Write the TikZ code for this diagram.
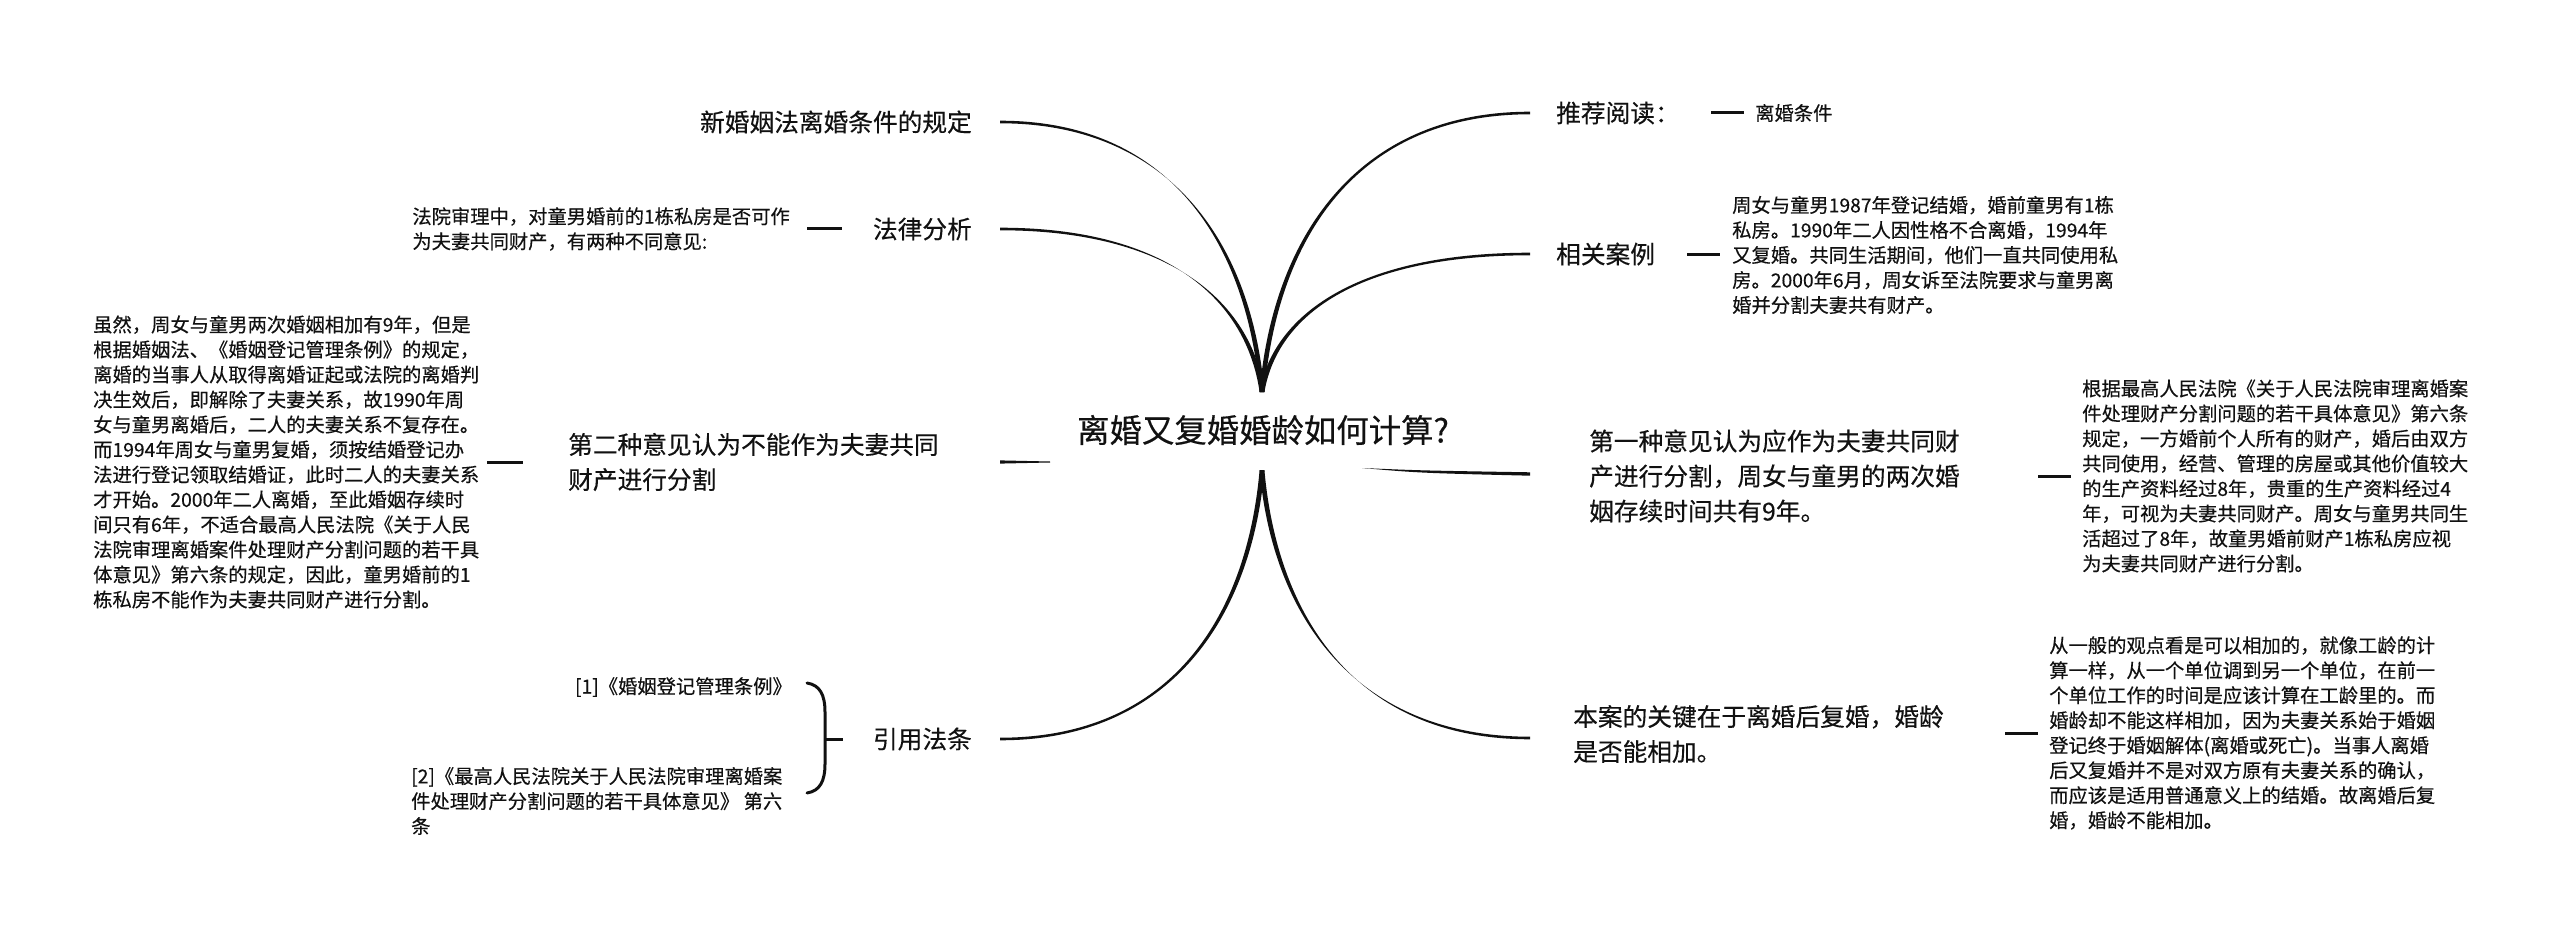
\documentclass[tikz,border=0pt]{standalone}
\usepackage{fontspec}
\newfontfamily\cjk[FakeBold=0.35]{Noto Sans CJK SC}
\usetikzlibrary{calc}
\definecolor{linec}{HTML}{111111}
\definecolor{txtc}{HTML}{111111}
\newcommand\fanline[6]{%
  \fill[linec] ($(#1)+(-2.4,0)$) .. controls +(#3,#4) and +(#5,#6) .. ($(#2)+(0,-1.3)$)
    -- ($(#2)+(0,1.3)$) .. controls +(#5,#6) and +(#3,#4) .. ($(#1)+(2.4,0)$) -- cycle;}
\begin{document}
\begin{tikzpicture}[x=1pt,y=-1pt,
  txt/.style={inner sep=0pt, text=txtc, font=\cjk\fontsize{19.3}{25}\selectfont, align=left},
  branch/.style={inner sep=0pt, text=txtc, font=\cjk\fontsize{24.7}{35}\selectfont, align=left},
  rootnode/.style={inner sep=0pt, text=txtc, font=\cjk\fontsize{32.4}{40}\selectfont},
  dashline/.style={draw=linec, line width=3pt},
  bracket/.style={draw=linec, line width=3pt, line cap=round},
]
\fill[white] (0,0) rectangle (2560,925);
\useasboundingbox (0,0) rectangle (2560,925);

% root
\node[rootnode] (root) at (1263,430) {离婚又复婚婚龄如何计算?};

% left branches
\node[branch, anchor=east] (b1) at (972,122) {新婚姻法离婚条件的规定};
\node[branch, anchor=east] (b2) at (972,229) {法律分析};
\node[branch, anchor=west] (b3) at (568,462) {第二种意见认为不能作为夫妻共同\\财产进行分割};
\node[branch, anchor=east] (b4) at (972,739) {引用法条};

\node[txt, anchor=east] (d2) at (790,229) {法院审理中，对童男婚前的1栋私房是否可作\\为夫妻共同财产，有两种不同意见:};
\node[txt, anchor=west] (d3) at (93,462) {虽然，周女与童男两次婚姻相加有9年，但是\\
根据婚姻法、《婚姻登记管理条例》的规定，\\
离婚的当事人从取得离婚证起或法院的离婚判\\
决生效后，即解除了夫妻关系，故1990年周\\
女与童男离婚后，二人的夫妻关系不复存在。\\
而1994年周女与童男复婚，须按结婚登记办\\
法进行登记领取结婚证，此时二人的夫妻关系\\
才开始。2000年二人离婚，至此婚姻存续时\\
间只有6年，不适合最高人民法院《关于人民\\
法院审理离婚案件处理财产分割问题的若干具\\
体意见》第六条的规定，因此，童男婚前的1\\
栋私房不能作为夫妻共同财产进行分割。};
\node[txt, anchor=east] (d4a) at (792,687) {[1]《婚姻登记管理条例》};
\node[txt, anchor=west] (d4b) at (411,801) {[2]《最高人民法院关于人民法院审理离婚案\\件处理财产分割问题的若干具体意见》 第六\\条};

% right branches
\node[branch, anchor=west] (r1) at (1556,113) {推荐阅读：};
\node[txt, anchor=west] (r1d) at (1755,113) {离婚条件};
\node[branch, anchor=west] (r2) at (1556,254) {相关案例};
\node[txt, anchor=west] (r2d) at (1732,255) {周女与童男1987年登记结婚，婚前童男有1栋\\
私房。1990年二人因性格不合离婚，1994年\\
又复婚。共同生活期间，他们一直共同使用私\\
房。2000年6月，周女诉至法院要求与童男离\\
婚并分割夫妻共有财产。};
\node[branch, anchor=west] (r3) at (1589,476) {第一种意见认为应作为夫妻共同财\\产进行分割，周女与童男的两次婚\\姻存续时间共有9年。};
\node[txt, anchor=west] (r3d) at (2082,476) {根据最高人民法院《关于人民法院审理离婚案\\
件处理财产分割问题的若干具体意见》第六条\\
规定，一方婚前个人所有的财产，婚后由双方\\
共同使用，经营、管理的房屋或其他价值较大\\
的生产资料经过8年，贵重的生产资料经过4\\
年，可视为夫妻共同财产。周女与童男共同生\\
活超过了8年，故童男婚前财产1栋私房应视\\
为夫妻共同财产进行分割。};
\node[branch, anchor=west] (r4) at (1573,734) {本案的关键在于离婚后复婚，婚龄\\是否能相加。};
\node[txt, anchor=west] (r4d) at (2049,733) {从一般的观点看是可以相加的，就像工龄的计\\
算一样，从一个单位调到另一个单位，在前一\\
个单位工作的时间是应该计算在工龄里的。而\\
婚龄却不能这样相加，因为夫妻关系始于婚姻\\
登记终于婚姻解体(离婚或死亡)。当事人离婚\\
后又复婚并不是对双方原有夫妻关系的确认，\\
而应该是适用普通意义上的结婚。故离婚后复\\
婚，婚龄不能相加。};

% connector ends
\coordinate (ht) at (1262,392);
\coordinate (hb) at (1262,470);
\coordinate (b1e) at (1000,122);
\coordinate (b2e) at (1000,229);
\coordinate (b3e) at (1000,462);
\coordinate (b4e) at (1000,739);
\coordinate (r1e) at (1530,113);
\coordinate (r2e) at (1530,254);
\coordinate (r3e) at (1530,474);
\coordinate (r4e) at (1530,738);
\coordinate (rl) at (1050,462);
\coordinate (rr) at (1362,468);

% fan connectors
\fanline{ht}{r1e}{13}{-153}{-174}{0}
\fanline{ht}{r2e}{13}{-76}{-174}{0}
\fanline{ht}{b1e}{-13}{-149}{170}{0}
\fanline{ht}{b2e}{-13}{-90}{170}{0}
\fanline{hb}{b4e}{-13}{148}{170}{0}
\fanline{hb}{r4e}{13}{147}{-174}{0}

% short tapered connectors
\fill[linec] ($(b3e)+(0,-1.6)$) -- ($(rl)+(0,-0.5)$) -- ($(rl)+(0,0.5)$) -- ($(b3e)+(0,1.6)$) -- cycle;
\fill[linec] (rr) .. controls (1420,470.5) .. ($(r3e)+(0,-1.7)$) -- ($(r3e)+(0,1.7)$) .. controls (1420,473) .. (rr) -- cycle;

% dashes to details
\draw[dashline] ([xshift=17]d2.east) -- ([xshift=-31]b2.west);
\draw[dashline] ([xshift=-81]b3.west) -- ([xshift=-45]b3.west);
\draw[dashline] ([xshift=-44]r1d.west) -- ([xshift=-11]r1d.west);
\draw[dashline] ([xshift=-45]r2d.west) -- ([xshift=-12]r2d.west);
\draw[dashline] ([xshift=-44]r3d.west) -- ([xshift=-11]r3d.west);
\draw[dashline] ([xshift=-44]r4d.west) -- ([xshift=-11]r4d.west);

% bracket for citations
\draw[bracket] (807,683) .. controls (820,685) and (825,695) .. (825,712) -- (825,764) .. controls (825,781) and (820,791) .. (807,793);
\draw[dashline] (825,739) -- ([xshift=-30]b4.west);
\end{tikzpicture}
\end{document}
